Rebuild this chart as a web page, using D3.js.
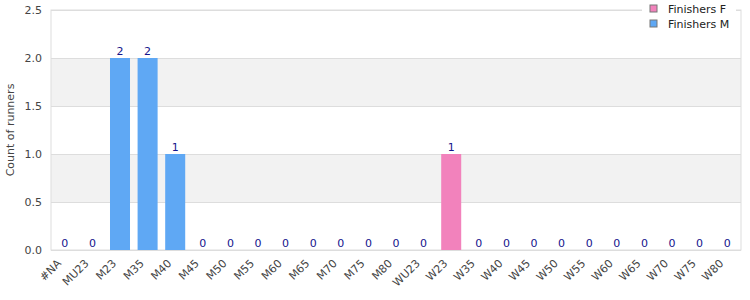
<!DOCTYPE html>
<html>
  <head>
    <meta charset="UTF-8">
    <script src="https://d3js.org/d3.v7.min.js"></script>
    <style>
      body { margin: 0; background: #fff; }
      #svg { display: block; font-family: "DejaVu Sans", sans-serif; }
      .grid line { stroke: #dddddd; }
      .grid .domain { stroke: none; }
    </style>
  </head>
  <body>
    <svg id="svg" width="750" height="300"></svg>
    <script>
      // categories and counts
      const categories = ["#NA", "MU23", "M23", "M35", "M40", "M45", "M50", "M55", "M60", "M65", "M70", "M75", "M80",
                          "WU23", "W23", "W35", "W40", "W45", "W50", "W55", "W60", "W65", "W70", "W75", "W80"];
      const finishersM = [0, 0, 2, 2, 1, 0, 0, 0, 0, 0, 0, 0, 0, 0, 0, 0, 0, 0, 0, 0, 0, 0, 0, 0, 0];
      const finishersF = [0, 0, 0, 0, 0, 0, 0, 0, 0, 0, 0, 0, 0, 0, 1, 0, 0, 0, 0, 0, 0, 0, 0, 0, 0];
      const yTicks = [0, 0.5, 1.0, 1.5, 2.0, 2.5];
      const seriesNames = ["Finishers F", "Finishers M"];
      const seriesColors = ["#f282bc", "#5fa8f4"];

      const svg = d3.select("svg#svg");
      const margin = {top: 10, left: 51, right: 9, bottom: 50};
      const plotWidth = 750 - margin.left - margin.right;
      const plotHeight = 300 - margin.top - margin.bottom;

      const x = d3.scaleBand().domain(categories).range([0, plotWidth]).paddingInner(0.275).paddingOuter(0.1375);
      const y = d3.scaleLinear().domain([0, 2.5]).range([plotHeight, 0]);

      const plot = svg.append("g").attr("transform", "translate(" + margin.left + "," + margin.top + ")");

      // alternating bands
      plot.selectAll("rect.band")
        .data(yTicks.slice(0, -1).filter((d, i) => i % 2 == 1))
        .enter().append("rect")
        .attr("class", "band")
        .attr("x", 0).attr("width", plotWidth)
        .attr("y", d => y(d + 0.5)).attr("height", d => y(d) - y(d + 0.5))
        .attr("fill", "#f2f2f2");

      // horizontal gridlines
      plot.append("g").attr("class", "grid")
        .call(d3.axisLeft(y).tickValues(yTicks).tickFormat("").tickSize(-plotWidth));

      // frame
      plot.append("rect")
        .attr("width", plotWidth).attr("height", plotHeight)
        .attr("fill", "none").attr("stroke", "#dddddd");

      // y axis labels
      const yAxis = plot.append("g")
        .call(d3.axisLeft(y).tickValues(yTicks).tickFormat(d3.format(".1f")).tickSize(0).tickPadding(9));
      yAxis.select(".domain").remove();
      yAxis.selectAll("text").attr("fill", "#444").style("font-size", "11px").style("font-family", "DejaVu Sans");

      // x axis labels
      const xAxis = plot.append("g").attr("transform", "translate(0," + plotHeight + ")")
        .call(d3.axisBottom(x).tickSize(0));
      xAxis.select(".domain").remove();
      xAxis.selectAll("text")
        .attr("fill", "#444").style("font-size", "11px").style("font-family", "DejaVu Sans")
        .attr("text-anchor", "end")
        .attr("x", 0).attr("y", 0).attr("dy", 0)
        .attr("transform", "translate(-3,14) rotate(-45)");

      // bars
      const rows = categories.map((c, i) => ({cat: c, m: finishersM[i], f: finishersF[i]}));
      plot.selectAll("rect.barM").data(rows.filter(d => d.m > 0)).enter().append("rect")
        .attr("x", d => x(d.cat)).attr("width", x.bandwidth())
        .attr("y", d => y(d.m)).attr("height", d => y(0) - y(d.m))
        .attr("fill", seriesColors[1]);
      plot.selectAll("rect.barF").data(rows.filter(d => d.f > 0)).enter().append("rect")
        .attr("x", d => x(d.cat)).attr("width", x.bandwidth())
        .attr("y", d => y(d.f)).attr("height", d => y(0) - y(d.f))
        .attr("fill", seriesColors[0]);

      // value labels
      plot.selectAll("text.val").data(rows).enter().append("text")
        .attr("x", d => x(d.cat) + x.bandwidth() / 2)
        .attr("y", d => y(d.m + d.f) - 3)
        .attr("text-anchor", "middle")
        .attr("fill", "#14148c")
        .style("font-size", "11px")
        .text(d => d.m + d.f);

      // y axis title
      svg.append("text")
        .attr("transform", "translate(10," + (margin.top + plotHeight / 2) + ") rotate(-90)")
        .attr("text-anchor", "middle")
        .attr("dy", "0.35em")
        .attr("fill", "#444")
        .style("font-size", "11px")
        .text("Count of runners");

      // legend
      const legend = svg.append("g").attr("transform", "translate(642,1)");
      legend.append("rect").attr("width", 94).attr("height", 30).attr("fill", "#fff");
      seriesNames.forEach((name, i) => {
        const row = legend.append("g").attr("transform", "translate(8," + (4 + i * 15) + ")");
        row.append("rect").attr("width", 7).attr("height", 7)
          .attr("fill", seriesColors[i]).attr("stroke", "#777").attr("stroke-width", 1);
        row.append("text").attr("x", 18).attr("y", 4).attr("dy", "0.35em")
          .attr("fill", "#222").style("font-size", "11px").text(name);
      });
    </script>
  </body>
</html>
